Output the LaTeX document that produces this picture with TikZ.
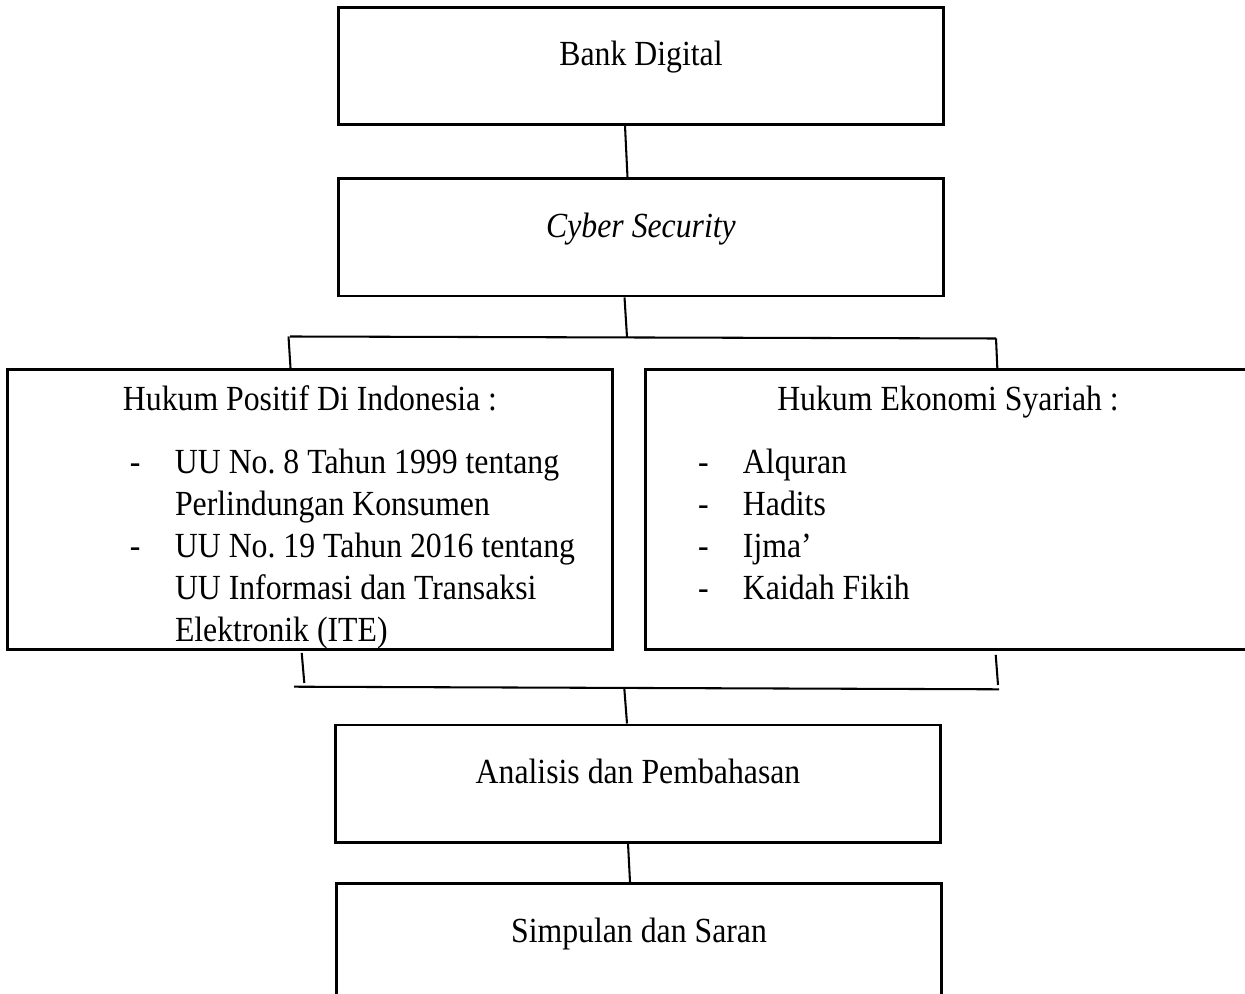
\documentclass[tikz,border=0pt]{standalone}
\usepackage{fontspec}
\setmainfont{Liberation Serif}[FakeStretch=0.9]
\usepackage{tikz}
\usetikzlibrary{calc}
\tikzset{kotak/.style={draw, line width=1pt, inner sep=0pt, minimum width=205.4pt, minimum height=39.8pt, text height=0pt, text depth=0pt}}
\tikzset{kotakbesar/.style={draw, line width=1pt, inner sep=0pt, anchor=north, text width=205.4pt, align=flush left, text height=13.9pt, text depth=81.3pt}}
\tikzset{garis/.style={line width=0.7pt}}

\begin{document}
\begin{tikzpicture}[x=0.34pt, y=-0.34pt, font=\fontsize{12pt}{14.3pt}\selectfont\frenchspacing]
\useasboundingbox (0,0) rectangle (1245,994);
% kotak
\node[kotak] (bank) at (641,66) {Bank Digital};
\node[kotak] (cyber) at (641,237.5) {\textit{Cyber Security}};
\node[kotakbesar] (kiri) at (310,368) {\makebox[205.4pt]{Hukum Positif Di Indonesia :}\\[7.1pt]
\hspace*{41.5pt}\makebox[15.3pt][l]{-}UU No. 8 Tahun 1999 tentang\\
\hspace*{56.8pt}Perlindungan Konsumen\\
\hspace*{41.5pt}\makebox[15.3pt][l]{-}UU No. 19 Tahun 2016 tentang\\
\hspace*{56.8pt}UU Informasi dan Transaksi\\
\hspace*{56.8pt}Elektronik (ITE)};
\node[kotakbesar] (kanan) at (948,368) {\makebox[205.4pt]{Hukum Ekonomi Syariah :}\\[7.1pt]
\hspace*{17.7pt}\makebox[15.3pt][l]{-}Alquran\\
\hspace*{17.7pt}\makebox[15.3pt][l]{-}Hadits\\
\hspace*{17.7pt}\makebox[15.3pt][l]{-}Ijma’\\
\hspace*{17.7pt}\makebox[15.3pt][l]{-}Kaidah Fikih};
\node[kotak] (analisis) at (638,783.5) {Analisis dan Pembahasan};
\node[kotak] (simpulan) at (639,942) {Simpulan dan Saran};

% cabang atas
\coordinate (atasKiri) at (290,336.5);
\coordinate (atasKanan) at (996,338.5);
\coordinate (atasTengah) at (627,337);
\draw[garis] ($(bank.south)+(-16,0)$) -- ($(cyber.north)+(-13.5,0)$);
\draw[garis] ($(cyber.south)+(-16.5,0)$) -- (atasTengah);
\draw[garis] (atasKiri) -- (atasKanan);
\draw[garis] ($(atasKiri)+(-1.5,0)$) -- ($(kiri.north)+(-19.5,0)$);
\draw[garis] (atasKanan) -- ($(kanan.north)+(49.3,0)$);

% cabang bawah
\coordinate (bawahKiri) at (294,686.7);
\coordinate (bawahKanan) at (999,689.3);
\coordinate (bawahTengah) at (624.3,688.5);
\draw[garis] ($(kiri.south)+(-8.3,2)$) -- (304.3,683);
\draw[garis] ($(kanan.south)+(47.7,4)$) -- (998,685);
\draw[garis] (bawahKiri) -- (bawahKanan);
\draw[garis] (bawahTengah) -- ($(analisis.north)+(-11,0)$);
\draw[garis] ($(analisis.south)+(-10,0)$) -- ($(simpulan.north)+(-9,0)$);
\end{tikzpicture}
\end{document}
